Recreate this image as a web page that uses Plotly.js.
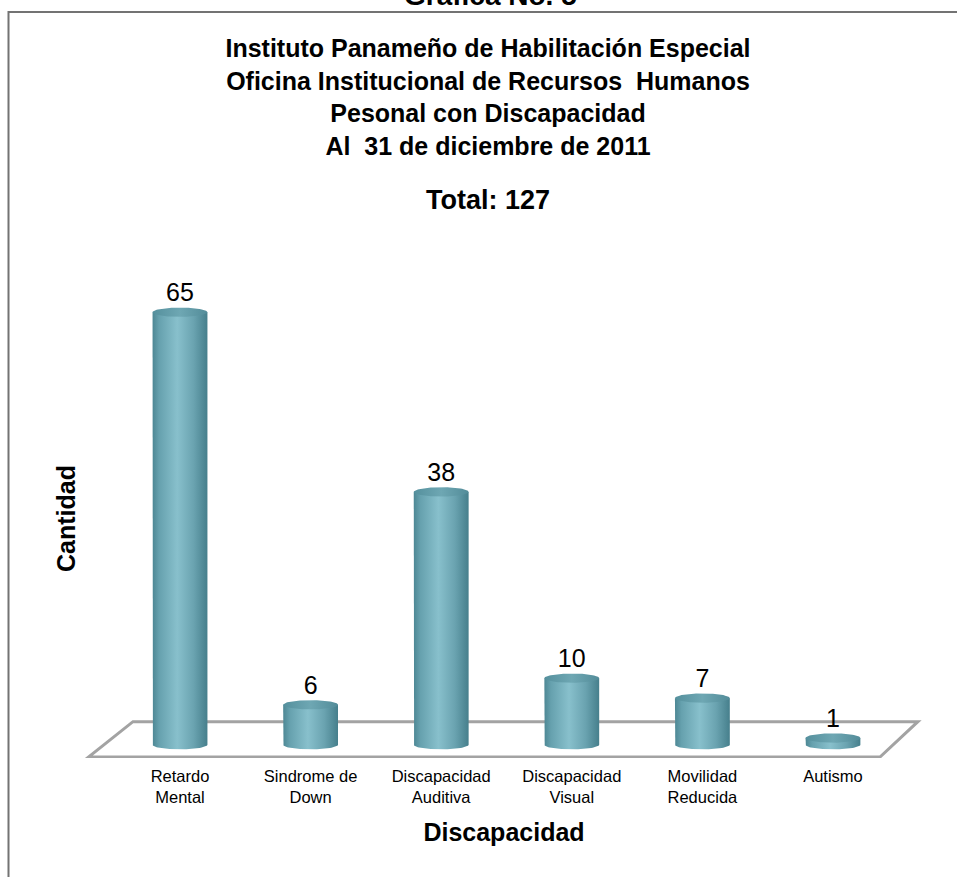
<!DOCTYPE html>
<html>
<head>
<meta charset="utf-8">
<script src="https://cdn.plot.ly/plotly-3.0.1.min.js"></script>
<style>html,body{margin:0;padding:0;background:#fff;}#chart{width:957px;height:877px;}</style>
</head>
<body>
<div id="chart"></div>
<script>
// ---- data ----
const categories = ['Retardo Mental', 'Sindrome de Down', 'Discapacidad Auditiva', 'Discapacidad Visual', 'Movilidad Reducida', 'Autismo'];
const tickLabels = ['Retardo<br>Mental', 'Sindrome de<br>Down', 'Discapacidad<br>Auditiva', 'Discapacidad<br>Visual', 'Movilidad<br>Reducida', 'Autismo'];
const values = [65, 6, 38, 10, 7, 1];
const titleLines = ['Instituto Panameño de Habilitación Especial', 'Oficina Institucional de Recursos  Humanos', 'Pesonal con Discapacidad', 'Al  31 de diciembre de 2011'];
const totalText = 'Total: 127';
const chartNumber = 'Gráfica No. 5';
const xTitle = 'Discapacidad';
const yTitle = 'Cantidad';

// ---- geometry (styles) ----
const W = 957, H = 877;
const M = {l: 84, r: 33, t: 279, b: 119};
const xRange = [-0.735, 5.697];
const yRange = [-2, 70];
const halfW = 0.21;   // cylinder half width in category units
const ry = 0.7;       // ellipse vertical radius in value units
const FONT = 'Liberation Sans, Arial, sans-serif';

const bodyScale = [[0, '#4d8794'], [0.12, '#66a1ae'], [0.45, '#88c0cc'], [0.75, '#6aa3b0'], [1, '#467f8c']];
const capScale = [[0, '#55909d'], [0.5, '#6ea7b3'], [1, '#538c99']];

const traces = [];
const N = 40;
values.forEach((v, i) => {
  const cx = i;
  // body
  const bx = [cx - halfW], by = [v];
  for (let k = 0; k <= N; k++) {
    const t = Math.PI + Math.PI * k / N;
    bx.push(cx + halfW * Math.cos(t));
    by.push(ry * Math.sin(t));
  }
  bx.push(cx + halfW); by.push(v);
  bx.push(cx - halfW); by.push(v);
  traces.push({
    type: 'scatter', mode: 'lines', x: bx, y: by, fill: 'toself',
    line: {width: 0, color: 'rgba(0,0,0,0)'},
    fillgradient: {type: 'horizontal', colorscale: bodyScale},
    hoverinfo: 'skip', showlegend: false
  });
  // top cap
  const tx = [], ty = [];
  for (let k = 0; k <= 2 * N; k++) {
    const t = 2 * Math.PI * k / (2 * N);
    tx.push(cx + halfW * Math.cos(t));
    ty.push(v + ry * Math.sin(t));
  }
  traces.push({
    type: 'scatter', mode: 'lines', x: tx, y: ty, fill: 'toself',
    line: {width: 0, color: 'rgba(0,0,0,0)'},
    fillgradient: {type: 'horizontal', colorscale: capScale},
    hoverinfo: 'skip', showlegend: false
  });
});

// data labels
traces.push({
  type: 'scatter', mode: 'text',
  x: values.map((v, i) => i),
  y: values.map(v => v + ry),
  text: values.map(v => String(v)),
  customdata: categories,
  hovertemplate: '%{customdata}: %{text}<extra></extra>',
  textposition: 'top center',
  textfont: {family: FONT, size: 25, color: '#000'},
  showlegend: false, cliponaxis: false
});

const pw = W - M.l - M.r, ph = H - M.t - M.b;
const px2paperX = p => (p - M.l) / pw;
const px2paperY = p => (H - M.b - p) / ph;

const layout = {
  width: W, height: H,
  margin: M,
  paper_bgcolor: '#ffffff',
  plot_bgcolor: 'rgba(0,0,0,0)',
  font: {family: FONT, color: '#000'},
  showlegend: false,
  title: {
    text: '<b>' + titleLines.join('<br>') + '</b>',
    font: {family: FONT, size: 25, color: '#000'},
    x: 488 / W, xanchor: 'center', xref: 'container',
    y: 1 - 57 / H, yanchor: 'top', yref: 'container'
  },
  xaxis: {
    range: xRange, tickmode: 'array',
    tickvals: categories.map((c, i) => i), ticktext: tickLabels,
    showgrid: false, zeroline: false, showline: false, ticks: '',
    tickfont: {family: FONT, size: 16.5, color: '#000'},
    ticklabelstandoff: 6,
    title: {text: '<b>' + xTitle + '</b>', font: {family: FONT, size: 25, color: '#000'}, standoff: 18},
    fixedrange: true
  },
  yaxis: {
    range: yRange, showgrid: false, zeroline: false, showline: false, ticks: '',
    showticklabels: false,
    title: {text: '<b>' + yTitle + '</b>', font: {family: FONT, size: 25, color: '#000'}, standoff: 0},
    fixedrange: true
  },
  shapes: [
    // floor
    {type: 'path', xref: 'x', yref: 'y', layer: 'below',
     path: 'M -0.36 3.46 L 5.65 3.46 L 5.36 -1.85 L -0.70 -1.85 Z',
     fillcolor: '#ffffff', line: {color: '#a3a3a3', width: 3}},
    // outer frame
    {type: 'rect', xref: 'paper', yref: 'paper',
     x0: px2paperX(8.5), x1: px2paperX(1000), y0: px2paperY(1000), y1: px2paperY(12),
     line: {color: '#737373', width: 2}, fillcolor: 'rgba(0,0,0,0)'}
  ],
  annotations: [
    {text: '<b>' + totalText + '</b>', xref: 'paper', yref: 'paper',
     x: px2paperX(488), y: px2paperY(200), xanchor: 'center', yanchor: 'middle',
     showarrow: false, font: {family: FONT, size: 27, color: '#000'}},
    {text: '<b>' + chartNumber + '</b>', xref: 'paper', yref: 'paper',
     x: px2paperX(490), y: px2paperY(-5), xanchor: 'center', yanchor: 'middle',
     showarrow: false, font: {family: FONT, size: 28, color: '#000'}}
  ]
};

Plotly.newPlot('chart', traces, layout, {displayModeBar: false, staticPlot: true});
</script>
</body>
</html>
